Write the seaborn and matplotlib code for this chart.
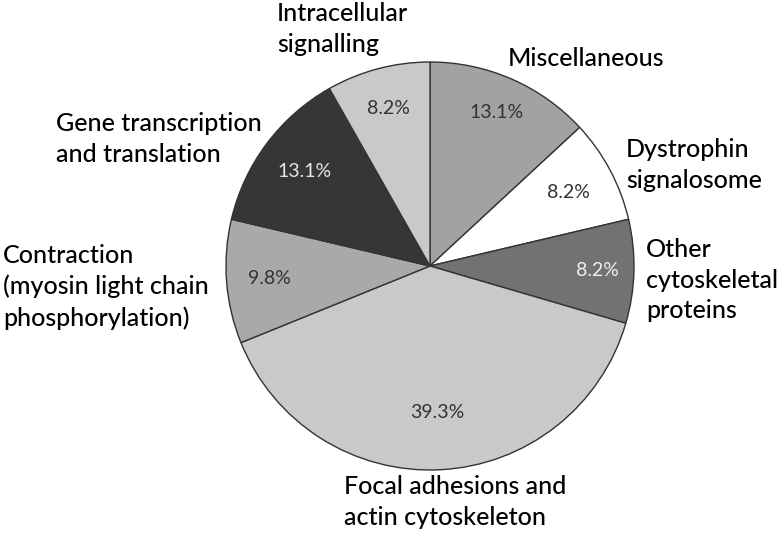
import matplotlib
matplotlib.use("Agg")
import matplotlib.pyplot as plt
import seaborn as sns
import numpy as np

# slice data, clockwise from 12 o'clock
categories = ["Miscellaneous", "Dystrophin signalosome", "Other cytoskeletal proteins",
              "Focal adhesions and actin cytoskeleton",
              "Contraction (myosin light chain phosphorylation)",
              "Gene transcription and translation", "Intracellular signalling"]
shares = [13.1, 8.2, 8.2, 39.3, 9.8, 13.1, 8.2]
label_texts = ["Miscellaneous", "Dystrophin\nsignalosome", "Other\ncytoskeletal\nproteins",
               "Focal adhesions and\nactin cytoskeleton",
               "Contraction\n(myosin light chain\nphosphorylation)",
               "Gene transcription\nand translation", "Intracellular\nsignalling"]

slice_colors = ["#a2a2a2", "#ffffff", "#727272", "#c9c9c9", "#a9a9a9", "#363636", "#c9c9c9"]
pct_colors = ["#333333", "#333333", "#eeeeee", "#333333", "#333333", "#e6e6e6", "#333333"]
pct_dist = [0.82, 0.77, 0.82, 0.72, 0.79, 0.77, 0.80]

# label placement in pixel space (left x, centre y from top)
label_pos = [(508, 58), (626, 165), (646, 280), (344, 502), (3, 287), (56, 139), (277, 29)]

sns.set_theme(style="white")
plt.rcParams["font.family"] = ["Lato", "DejaVu Sans"]

W, H = 779, 537
cx, cy, R = 430, H - 266, 204
fig = plt.figure(figsize=(W / 100, H / 100), dpi=100)
ax = fig.add_axes([0, 0, 1, 1])

wedges, texts = ax.pie(shares, colors=slice_colors, startangle=90, counterclock=False,
                       center=(cx, cy), radius=R, frame=False,
                       wedgeprops=dict(edgecolor="#333333", linewidth=1.0))
ax.set_xlim(0, W)
ax.set_ylim(0, H)
ax.set_aspect("equal")
ax.axis("off")

# percent labels
for w, v, d, c in zip(wedges, shares, pct_dist, pct_colors):
    ang = np.deg2rad((w.theta1 + w.theta2) / 2)
    ax.text(cx + d * R * np.cos(ang), cy + d * R * np.sin(ang), f"{v}%",
            ha="center", va="center", fontsize=14, color=c)

for t, (x, y) in zip(label_texts, label_pos):
    ax.text(x, H - y, t, ha="left", va="center", fontsize=18, color="#000000",
            fontweight="medium", linespacing=1.4)

fig.savefig("out.png", dpi=100)
